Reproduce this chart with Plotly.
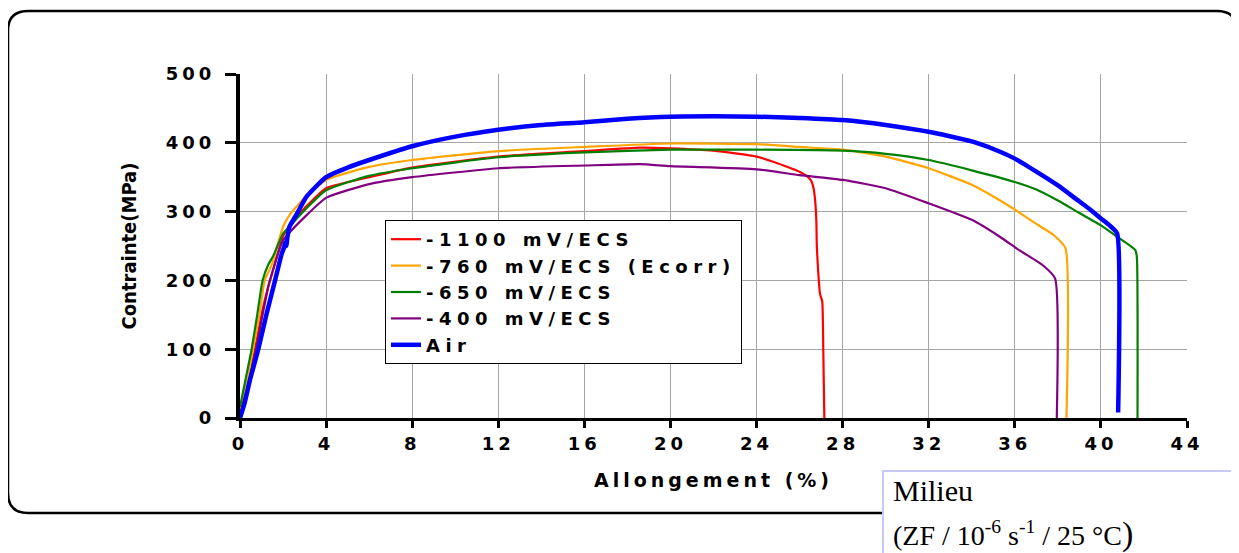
import plotly.graph_objects as go

# ---------------- data ----------------
series_names = ["-1100 mV/ECS", "-760 mV/ECS (Ecorr)", "-650 mV/ECS", "-400 mV/ECS", "Air"]
series_colors = ["#ff0000", "#ffa500", "#008000", "#800080", "#0000ff"]

red_x = [0, 0.3, 0.7, 1.0, 1.3, 1.5, 2.0, 2.5, 3, 4, 6, 8, 12, 16, 18.6, 20, 22, 24, 25, 25.6,
         26, 26.4, 26.55, 26.65, 26.72, 26.78, 26.8, 26.86, 26.95, 27.05, 27.1, 27.15]
red_y = [5, 40, 100, 150, 190, 211, 264, 288, 305, 334, 350, 364, 380, 388, 393, 392, 388.5, 380, 370, 363,
         358, 350, 344, 334, 317, 285, 250, 215, 180, 170, 100, 0]

orange_x = [0, 0.3, 0.6, 0.9, 1.15, 1.5, 2.0, 2.3, 3, 4, 6, 8, 12, 16, 20, 24, 26, 28, 30, 32, 34,
            35, 36, 36.85, 37.8, 38.35, 38.4]
orange_y = [10, 50, 100, 150, 200, 225, 278, 295, 320, 346, 365, 375, 388, 394, 399, 398, 394, 390, 380, 363, 339,
            322, 303, 285, 266, 247, 0]

green_x = [0, 0.25, 0.54, 0.8, 1.05, 1.3, 1.55, 2.0, 2.5, 3, 4, 6, 8, 12, 16, 20, 24, 28, 30, 32, 34,
           36, 37, 38, 39, 40, 40.75, 41.6, 41.67, 41.7]
green_y = [16, 55, 100, 150, 200, 222, 236, 268, 285, 302, 331, 352, 363, 379, 386, 390, 390, 388.5, 384, 375, 360,
           343, 332, 316, 298, 280, 263.5, 244, 234, 0]

purple_x = [0, 0.35, 0.75, 1.05, 1.35, 1.6, 1.8, 2.0, 2.2, 3, 4, 6, 8, 12, 16, 18.6, 20, 24, 26, 28, 30,
            32, 34, 35.3, 36.2, 37.3, 37.87, 37.95]
purple_y = [5, 45, 100, 150, 195, 222, 242, 258, 266, 292, 320, 340, 350, 363, 367, 369, 366, 361.5, 353, 346, 334,
            312, 288, 263.5, 244, 222, 203, 0]

blue_x = [0, 0.2, 0.46, 0.85, 1.24, 1.63, 1.94, 2.05, 2.1, 2.15, 2.2, 2.3, 2.63, 3.1, 4, 5, 6, 8, 10, 12, 14,
          16, 18, 20, 22, 24, 26, 28, 30, 32, 34, 35, 36, 37, 38, 38.9, 39.5, 40, 40.4, 40.75, 40.8]
blue_y = [0, 20, 55, 100, 152, 200, 239, 248, 255, 250, 262, 278, 296, 322, 350, 364, 375, 395, 409, 419, 426,
          430, 435, 438, 438.5, 438, 436, 433, 426, 416, 402, 391, 377, 358, 338, 317, 303, 290, 280, 268.5, 8]

series_x = [red_x, orange_x, green_x, purple_x, blue_x]
series_y = [red_y, orange_y, green_y, purple_y, blue_y]
series_widths = [2.2, 2.2, 2.2, 2.2, 4.5]

x_tick_vals = [0, 4, 8, 12, 16, 20, 24, 28, 32, 36, 40, 44]
y_tick_vals = [0, 100, 200, 300, 400, 500]
x_title = "Allongement (%)"
y_title = "Contrainte(MPa)"
note_line1 = "Milieu"
note_line2 = "(ZF / 10<sup>-6</sup> s<sup>-1</sup> / 25 °C<span style=\"font-size:34px\">)</span>"

# ---------------- helpers ----------------
def spaced(t, px):
    return f'<span style="letter-spacing:{px}px">{t}</span>'

PAGE_OFF = 8                      # body margin of the page
W, H = 1239 - PAGE_OFF, 553 - PAGE_OFF
L, R, T, B = 240, 1187, 74, 418   # plot area in page pixels

def px2x(px):
    return (px - L) / (R - L)

def py2y(py):
    return (B - py) / (B - T)

fig = go.Figure()
for name, xs, ys, col, lw in zip(series_names, series_x, series_y, series_colors, series_widths):
    fig.add_trace(go.Scatter(x=xs, y=ys, mode="lines", name=spaced(name, 5.5), legendgroup=name,
                             line=dict(color=col, width=lw, shape="spline", smoothing=0.5),
                             hoverinfo="skip"))

tick_font = dict(family="DejaVu Sans", size=18, color="black", weight="bold")

# rounded outer frame
x0, x1 = px2x(8), px2x(1237)
y0, y1 = py2y(513), py2y(11)
rx, ry = 20 / (R - L), 20 / (B - T)
frame = (f"M {x0+rx},{y1} L {x1-rx},{y1} Q {x1},{y1} {x1},{y1-ry} L {x1},{y0+ry} "
         f"Q {x1},{y0} {x1-rx},{y0} L {x0+rx},{y0} Q {x0},{y0} {x0},{y0+ry} "
         f"L {x0},{y1-ry} Q {x0},{y1} {x0+rx},{y1} Z")

fig.update_layout(
    width=W, height=H, autosize=False,
    margin=dict(l=L - PAGE_OFF, r=1239 - R, t=T - PAGE_OFF, b=553 - B, pad=0),
    paper_bgcolor="white", plot_bgcolor="white",
    showlegend=True,
    legend=dict(x=px2x(385), y=py2y(220), xanchor="left", yanchor="top",
                bordercolor="black", borderwidth=1, bgcolor="white",
                font=dict(family="DejaVu Sans", size=18, color="black", weight="bold"),
                tracegroupgap=0, itemwidth=30),
    xaxis=dict(range=[0, 44], tickmode="array", tickvals=x_tick_vals,
               ticktext=[spaced(str(v), 4) for v in x_tick_vals],
               tickfont=tick_font, showgrid=True, gridcolor="#a6a6a6", gridwidth=1,
               showline=True, linecolor="black", linewidth=3, ticks="outside", ticklen=7,
               tickwidth=3, tickcolor="black", zeroline=False,
               title=dict(text=spaced(x_title, 4), font=dict(family="DejaVu Sans", size=19, color="black", weight="bold"),
                          standoff=22)),
    yaxis=dict(range=[0, 500], tickmode="array", tickvals=y_tick_vals,
               ticktext=[spaced(str(v), 4) for v in y_tick_vals],
               tickfont=tick_font, showgrid=True, gridcolor="#a6a6a6", gridwidth=1,
               showline=True, linecolor="black", linewidth=4, ticks="outside", ticklen=11,
               tickwidth=3, tickcolor="black", zeroline=False, ticklabelstandoff=6,
               title=dict(text=y_title, font=dict(family="Liberation Sans Narrow, DejaVu Sans Condensed, Arial", size=20,
                                                  color="black", weight="bold"),
                          standoff=25)),
    shapes=[
        dict(type="path", xref="paper", yref="paper", path=frame, line=dict(color="black", width=2.5),
             fillcolor="rgba(0,0,0,0)", layer="below"),
        dict(type="rect", xref="paper", yref="paper", x0=px2x(883), x1=px2x(1260), y0=py2y(575), y1=py2y(471),
             line=dict(color="#c8c8f4", width=2), fillcolor="white", layer="above"),
    ],
    annotations=[
        dict(text=note_line1, xref="paper", yref="paper", x=px2x(891), y=py2y(490), xanchor="left", yanchor="middle",
             showarrow=False, font=dict(family="Liberation Serif", size=30, color="black")),
        dict(text=note_line2, xref="paper", yref="paper", x=px2x(891), y=py2y(534), xanchor="left", yanchor="middle",
             showarrow=False, font=dict(family="Liberation Serif", size=28, color="black")),
    ],
)

fig.write_html("out.html")
